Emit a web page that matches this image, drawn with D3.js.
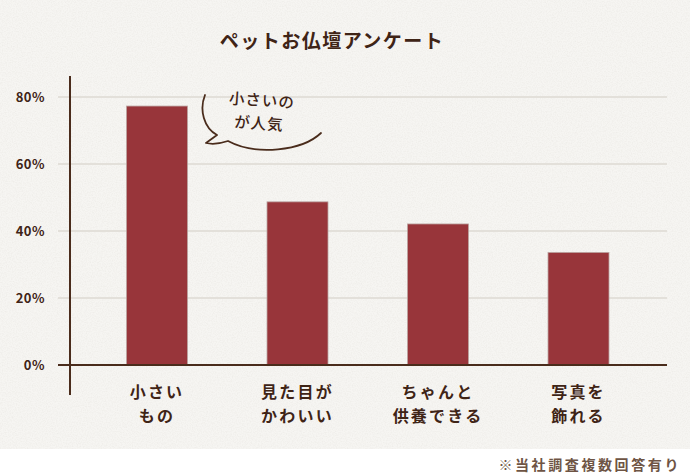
<!DOCTYPE html>
<html>
<head>
<meta charset="utf-8">
<script src="https://cdn.jsdelivr.net/npm/d3@7"></script>
<style>
  body { margin: 0; background: #ffffff; }
  text { font-family: "Noto Sans CJK JP", "Noto Sans", sans-serif; }
</style>
</head>
<body>
<div id="chart"></div>
<script>
// data
const categories = [["小さい", "もの"], ["見た目が", "かわいい"], ["ちゃんと", "供養できる"], ["写真を", "飾れる"]];
const values = [77.3, 48.7, 42.1, 33.6];
const yTicks = [0, 20, 40, 60, 80];
const title = "ペットお仏壇アンケート";
const note = "※当社調査複数回答有り";
const bubbleLines = ["小さいの", "が人気"];

const width = 690;
const height = 475;
const brown = "#3f2416";

const svg = d3.select("#chart")
  .append("svg")
  .attr("width", width)
  .attr("height", height);

// paper texture
const defs = svg.append("defs");
const f = defs.append("filter").attr("id", "paper")
  .attr("x", 0).attr("y", 0).attr("width", "100%").attr("height", "100%");
f.append("feTurbulence").attr("type", "fractalNoise")
  .attr("baseFrequency", 0.8).attr("numOctaves", 2).attr("seed", 3);
f.append("feColorMatrix").attr("type", "matrix")
  .attr("values", "0 0 0 0 0.55  0 0 0 0 0.52  0 0 0 0 0.47  0 0 0 -1.6 1.0");

svg.append("rect").attr("width", width).attr("height", 449).attr("fill", "#f6f5f2");
svg.append("rect").attr("width", width).attr("height", 449)
  .attr("filter", "url(#paper)").attr("opacity", 0.18);
svg.append("rect").attr("y", 449).attr("width", width).attr("height", height - 449).attr("fill", "#ffffff");

// scales
const x = d3.scaleBand()
  .domain(d3.range(values.length))
  .range([86.75, 648.75])
  .paddingInner(0.566)
  .paddingOuter(0.283);

const y = d3.scaleLinear()
  .domain([0, 80])
  .range([365, 97]);

// gridlines
svg.append("g")
  .selectAll("line")
  .data(yTicks.filter(d => d > 0))
  .join("line")
    .attr("x1", 58).attr("x2", 667)
    .attr("y1", d => y(d)).attr("y2", d => y(d))
    .attr("stroke", "#e3e0da")
    .attr("stroke-width", 2);

// bars
svg.append("g")
  .selectAll("rect")
  .data(values)
  .join("rect")
    .attr("x", (d, i) => x(i))
    .attr("y", d => y(d))
    .attr("width", x.bandwidth())
    .attr("height", d => y(0) - y(d))
    .attr("fill", "#98353a")
    .attr("stroke", "#bba3a0")
    .attr("stroke-width", 0.8);

// axis lines
svg.append("line")
  .attr("x1", 70).attr("x2", 70).attr("y1", 76).attr("y2", 395)
  .attr("stroke", "#4a2c1c").attr("stroke-width", 2);
svg.append("line")
  .attr("x1", 58).attr("x2", 667).attr("y1", y(0)).attr("y2", y(0))
  .attr("stroke", "#4a2c1c").attr("stroke-width", 2);

// y axis labels
function yAxis(g) {
  g.attr("transform", "translate(70,0)")
    .call(d3.axisLeft(y).tickValues(yTicks).tickFormat(d => d + "%").tickSize(0).tickPadding(25))
    .call(g => g.select(".domain").remove())
    .attr("font-family", "'Noto Sans CJK JP', sans-serif")
    .attr("font-size", 13)
    .attr("font-weight", "bold");
  g.selectAll("text").attr("fill", brown).attr("letter-spacing", "0.5px").attr("dy", "0.35em");
}
svg.append("g").call(yAxis);

// x labels, two lines each
const labelRows = categories.flatMap((lines, i) => lines.map((t, j) => ({ i, j, t })));
svg.append("g")
  .selectAll("text")
  .data(labelRows)
  .join("text")
    .attr("x", d => x(d.i) + x.bandwidth() / 2)
    .attr("y", d => 398 + d.j * 23.5)
    .attr("text-anchor", "middle")
    .attr("font-size", 16)
    .attr("font-weight", "bold")
    .attr("letter-spacing", "2.2px")
    .attr("fill", brown)
    .text(d => d.t);

// title
svg.append("text")
  .attr("x", 332).attr("y", 48)
  .attr("text-anchor", "middle")
  .attr("font-size", 19)
  .attr("font-weight", "bold")
  .attr("letter-spacing", "1.5px")
  .attr("fill", brown)
  .text(title);

// speech bubble
svg.append("path")
  .attr("d", "M205,95 C199,110 204,128 217,135 L206,143 C214,145 222,143 228,141 C256,156 302,151 321,133")
  .attr("fill", "none")
  .attr("stroke", "#4a2c1c")
  .attr("stroke-width", 1.8)
  .attr("stroke-linecap", "round")
  .attr("stroke-linejoin", "round");

svg.append("g")
  .selectAll("text")
  .data(bubbleLines)
  .join("text")
    .attr("x", (d, i) => i === 0 ? 262 : 259)
    .attr("y", (d, i) => 106 + i * 23)
    .attr("text-anchor", "middle")
    .attr("font-size", 15.5)
    .attr("font-weight", 500)
    .attr("letter-spacing", "1px")
    .attr("fill", brown)
    .attr("transform", (d, i) => `rotate(4 ${i === 0 ? 262 : 259} ${100 + i * 23})`)
    .text(d => d);

// footnote
svg.append("text")
  .attr("x", 681).attr("y", 470)
  .attr("text-anchor", "end")
  .attr("font-size", 14)
  .attr("font-weight", "bold")
  .attr("letter-spacing", "2.6px")
  .attr("fill", "#6e5444")
  .text(note);
</script>
</body>
</html>
